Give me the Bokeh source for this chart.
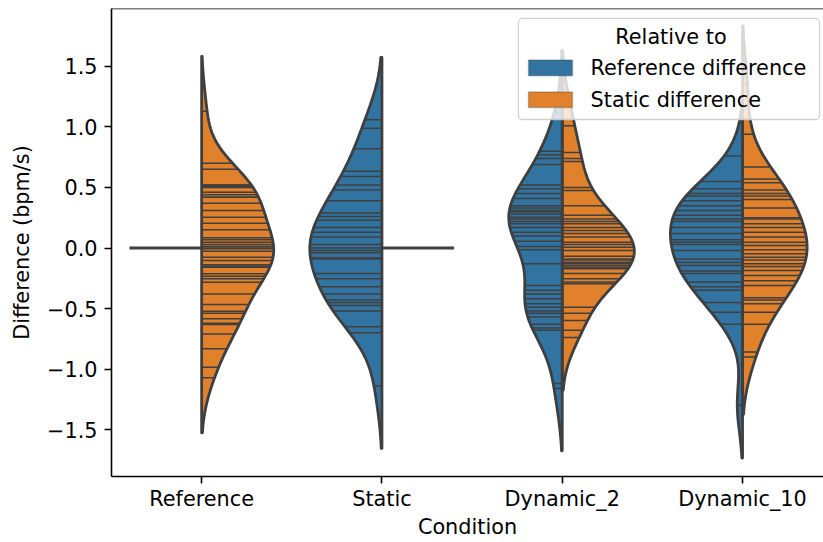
import numpy as np
from bokeh.plotting import figure
from bokeh.models import FixedTicker, Span, BoxAnnotation, Label, Range1d, ColumnDataSource
from bokeh.embed import file_html
from bokeh.resources import INLINE

# ---------------- data ----------------
conditions = ["Reference", "Static", "Dynamic_2", "Dynamic_10"]
series_names = ["Reference difference", "Static difference"]
legend_title = "Relative to"
y_ticks = [-1.5, -1.0, -0.5, 0.0, 0.5, 1.0, 1.5]
y_tick_labels = ["\u22121.5", "\u22121.0", "\u22120.5", "0.0", "0.5", "1.0", "1.5"]

# Reference condition
reference_refdiff = [0.0, 0.0, 0.0]
reference_staticdiff = [1.13, 0.70, 0.65, 0.52, 0.52, 0.51, 0.50, 0.46, 0.44, 0.42, 0.42,
                        0.37, 0.31, 0.255, 0.205, 0.15, 0.084, 0.068, 0.048, 0.029, 0.012,
                        0.0, -0.007, -0.026, -0.076, -0.103, -0.139, -0.15, -0.158, -0.213,
                        -0.233, -0.255, -0.282, -0.38, -0.467, -0.522, -0.539, -0.585,
                        -0.621, -0.632, -0.71, -0.833, -0.985, -1.073]
# Static condition
static_refdiff = [1.06, 0.99, 0.82, 0.635, 0.59, 0.52, 0.48, 0.39, 0.29, 0.26, 0.23, 0.17,
                  0.13, 0.09, 0.03, 0.0, -0.02, -0.04, -0.08, -0.09, -0.21, -0.255, -0.32,
                  -0.38, -0.43, -0.45, -0.475, -0.52, -0.65, -0.70, -1.14]
static_staticdiff = [0.0, 0.0, 0.0]
# Dynamic_2 condition
dyn2_refdiff = [1.12, 0.80, 0.77, 0.74, 0.69, 0.52, 0.49, 0.45, 0.41, 0.35, 0.33, 0.31,
                0.30, 0.28, 0.255, 0.24, 0.22, 0.20, 0.17, 0.13, 0.10, 0.056, 0.012,
                -0.015, -0.13, -0.31, -0.35, -0.38, -0.42, -0.46, -0.49, -0.52, -0.54,
                -0.57, -0.63, -0.66, -0.68, -1.12, -1.16]
dyn2_staticdiff = [1.19, 1.01, 0.79, 0.74, 0.715, 0.50, 0.475, 0.35, 0.27, 0.24, 0.22, 0.20,
                   0.17, 0.145, 0.12, 0.09, 0.048, 0.03, 0.007, -0.02, -0.068, -0.09, -0.10,
                   -0.117, -0.13, -0.145, -0.158, -0.172, -0.21, -0.255, -0.28, -0.296,
                   -0.49, -0.54, -0.60, -0.68, -0.74]
# Dynamic_10 condition
dyn10_refdiff = [0.76, 0.55, 0.49, 0.45, 0.43, 0.39, 0.35, 0.31, 0.27, 0.24, 0.22, 0.17,
                 0.12, 0.068, 0.048, 0.03, -0.02, -0.09, -0.12, -0.145, -0.19, -0.21,
                 -0.28, -0.32, -0.35, -0.45, -0.53, -0.63, -1.30]
dyn10_staticdiff = [1.36, 0.94, 0.67, 0.57, 0.54, 0.48, 0.45, 0.43, 0.40, 0.33, 0.25, 0.24,
                    0.20, 0.17, 0.13, 0.09, 0.048, 0.02, -0.015, -0.048, -0.076, -0.10,
                    -0.13, -0.153, -0.186, -0.227, -0.27, -0.31, -0.41, -0.43, -0.46,
                    -0.53, -0.63, -0.86, -0.90]

refdiff_by_condition = [reference_refdiff, static_refdiff, dyn2_refdiff, dyn10_refdiff]
staticdiff_by_condition = [reference_staticdiff, static_staticdiff, dyn2_staticdiff, dyn10_staticdiff]

# ---------------- style ----------------
colors = ["#3274a1", "#e1812c"]
edge = "#3f3f3f"
FONT = "DejaVu Sans"
FS = "20.8px"
HALF = 0.4  # half violin width in category units
CUT = 2
GRID = 100


def kde(vals):
    v = np.asarray(vals, dtype=float)
    n = len(v)
    bw = v.std(ddof=1) * n ** (-0.2)
    grid = np.linspace(v.min() - CUT * bw, v.max() + CUT * bw, GRID)
    dens = np.exp(-0.5 * ((grid[:, None] - v[None, :]) / bw) ** 2).sum(axis=1) / (n * bw * np.sqrt(2 * np.pi))
    return grid, dens


halves = []
for i in range(len(conditions)):
    halves.append((i, -1, refdiff_by_condition[i], 0))
    halves.append((i, +1, staticdiff_by_condition[i], 1))

kdes = {}
for k, (i, side, vals, h) in enumerate(halves):
    if np.ptp(vals) > 0:
        kdes[k] = kde(vals)
# area scaling within each condition (largest half reaches full width)
max_dens = {}
for k, (g, d) in kdes.items():
    i = halves[k][0]
    max_dens[i] = max(max_dens.get(i, 0.0), d.max())

p = figure(width=823, height=542, output_backend="svg", toolbar_location=None,
           x_range=Range1d(-0.5, 3.449), y_range=Range1d(-1.888, 1.979),
           min_border_left=111, min_border_right=0, min_border_top=8, min_border_bottom=66)
p.outline_line_color = None
p.xgrid.visible = False
p.ygrid.visible = False
p.background_fill_color = "white"
p.border_fill_color = "white"

poly_xs, poly_ys, poly_cols = [], [], []
st_x0, st_x1, st_y = [], [], []
deg_x0, deg_x1, deg_y = [], [], []
for k, (i, side, vals, h) in enumerate(halves):
    if k in kdes:
        grid, dens = kdes[k]
        w = dens / max_dens[i] * HALF
        xs = [i] + list(i + side * w) + [i]
        ys = [grid[0]] + list(grid) + [grid[-1]]
        poly_xs.append(xs)
        poly_ys.append(ys)
        poly_cols.append(colors[h])
        for v in vals:
            st_x0.append(i)
            st_x1.append(i + side * np.interp(v, grid, w))
            st_y.append(v)
    else:
        deg_x0.append(i)
        deg_x1.append(i + side * HALF)
        deg_y.append(vals[0])

psrc = ColumnDataSource(dict(xs=poly_xs, ys=poly_ys, c=poly_cols))
p.patches("xs", "ys", source=psrc, fill_color="c", line_color=None)
p.segment(x0=st_x0, y0=st_y, x1=st_x1, y1=st_y, line_color=edge, line_width=1.5)
p.patches("xs", "ys", source=psrc, fill_color=None, line_color=edge, line_width=2.8,
          line_join="round")
p.segment(x0=deg_x0, y0=deg_y, x1=deg_x1, y1=deg_y, line_color=edge, line_width=2.8)

# axes
for ax in (p.xaxis[0], p.yaxis[0]):
    ax.axis_line_color = "black"
    ax.axis_line_width = 1.6
    ax.major_tick_line_color = "black"
    ax.major_tick_line_width = 1.6
    ax.major_tick_out = 7
    ax.major_tick_in = 0
    ax.minor_tick_line_color = None
    ax.major_label_text_font = FONT
    ax.major_label_text_font_size = FS
    ax.major_label_text_color = "black"
    ax.axis_label_text_font = FONT
    ax.axis_label_text_font_size = FS
    ax.axis_label_text_font_style = "normal"
    ax.axis_label_text_color = "black"

p.xaxis.ticker = FixedTicker(ticks=list(range(len(conditions))))
p.xaxis.major_label_overrides = {float(i): c for i, c in enumerate(conditions)}
p.xaxis.axis_label = "Condition"
p.xaxis.major_label_standoff = 3
p.xaxis.axis_label_standoff = 1
p.yaxis.ticker = FixedTicker(ticks=y_ticks)
p.yaxis.major_label_overrides = {t: s for t, s in zip(y_ticks, y_tick_labels)}
p.yaxis.axis_label = "Difference (bpm/s)"
p.yaxis.major_label_standoff = 7
p.yaxis.axis_label_standoff = 10

p.add_layout(Span(location=1.979, dimension="width", line_color="black", line_width=1.6))

# legend (drawn by hand)
p.add_layout(BoxAnnotation(left=1.757, right=3.427, top=1.897, bottom=1.062,
                           fill_color="white", fill_alpha=0.8,
                           line_color="#cccccc", line_alpha=0.9, line_width=1.3,
                           border_radius=4))
p.add_layout(Label(x=2.603, y=1.74, text=legend_title, text_font=FONT, text_font_size=FS,
                   text_align="center", text_baseline="middle", text_color="black"))
sw_top = [1.553, 1.290]
sw_bot = [1.423, 1.160]
lab_y = [1.488, 1.225]
for j, name in enumerate(series_names):
    p.add_layout(BoxAnnotation(left=1.813, right=2.057, top=sw_top[j], bottom=sw_bot[j],
                               fill_color=colors[j], fill_alpha=1.0,
                               line_color=edge, line_width=1.5))
    p.add_layout(Label(x=2.157, y=lab_y[j], text=name, text_font=FONT, text_font_size=FS,
                       text_align="left", text_baseline="middle", text_color="black"))

open("out.html", "w").write(file_html(p, INLINE))
